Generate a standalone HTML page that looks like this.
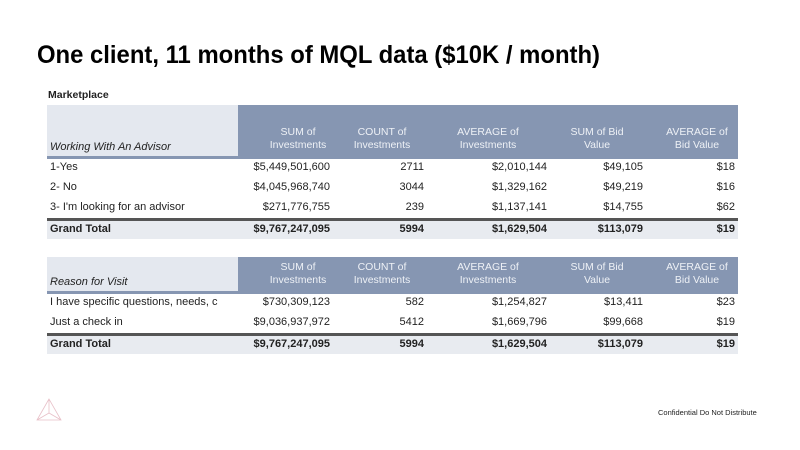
<!DOCTYPE html>
<html><head><meta charset="utf-8"><style>
body{margin:0;width:800px;height:450px;background:#fff;position:relative;overflow:hidden;font-family:"Liberation Sans",Arial,sans-serif;}
.a{position:absolute;}
.t{font-size:11px;color:#222;white-space:nowrap;}
.r{text-align:right;}
.h{color:#eef1f6;font-size:10.5px;text-align:center;line-height:13px;}
.b{font-weight:bold;}
</style></head><body>
<svg class="a" style="left:0;top:0" width="800" height="80"><text x="37" y="63" font-family="Liberation Sans, sans-serif" font-weight="bold" font-size="25" textLength="563" lengthAdjust="spacingAndGlyphs" fill="#000">One client, 11 months of MQL data ($10K / month)</text></svg>
<div class="a t b" style="left:48px;top:89px;font-size:10.5px">Marketplace</div>

<div id="t1"></div>
<div id="t2"></div>

<svg class="a" style="left:34px;top:397px" width="30" height="26"><path d="M15 2 L3 23 L27 23 Z M15 2 L15 16 L3 23 M15 16 L27 23" fill="none" stroke="#e8c0c8" stroke-width="0.8"/></svg>
<div class="a" style="left:658px;top:408px;font-size:7.5px;color:#222">Confidential Do Not Distribute</div>
<script>
const heads=[["SUM of","Investments"],["COUNT of","Investments"],["AVERAGE of","Investments"],["SUM of Bid","Value"],["AVERAGE of","Bid Value"]];
const rights=[330,424,547,643,735];
const centers=[298,382,488,597,697];
const t1rows=[["1-Yes","$5,449,501,600","2711","$2,010,144","$49,105","$18"],["2- No","$4,045,968,740","3044","$1,329,162","$49,219","$16"],["3- I'm looking for an advisor","$271,776,755","239","$1,137,141","$14,755","$62"]];
const t2rows=[["I have specific questions, needs, c","$730,309,123","582","$1,254,827","$13,411","$23"],["Just a check in","$9,036,937,972","5412","$1,669,796","$99,668","$19"]];
const total=["Grand Total","$9,767,247,095","5994","$1,629,504","$113,079","$19"];
function add(p,style,cls,txt,name){const d=document.createElement('div');d.className='a '+cls;d.style.cssText=style;if(txt!==undefined&&txt!==null)d.textContent=txt;


p.appendChild(d);return d;}
function table(host,label,top,hh,rows){
  add(host,`left:47px;top:${top}px;width:191px;height:${hh}px;background:#e4e8ef`,'', undefined,'header-label-bg');
  add(host,`left:238px;top:${top}px;width:500px;height:${hh}px;background:#8696b2`,'',undefined,'header-bg');
  add(host,`left:47px;top:${top+hh}px;width:691px;height:3px;background:#8696b2`,'',undefined,'header-rule');
  add(host,`left:50px;top:${top+hh-15}px;font-style:italic`,'t',label,'row-header-label');
  heads.forEach((h,i)=>{const c=centers[i]-50;
    const d=add(host,`left:${c}px;top:${top+hh-30}px;width:100px`,'h',null,'column-header');d.innerHTML=h[0]+'<br>'+h[1];});
  let y=top+hh+5;
  rows.forEach(r=>{add(host,`left:50px;top:${y}px`,'t',r[0],'row-label');
    r.slice(1).forEach((v,i)=>add(host,`left:${rights[i]-150}px;top:${y}px;width:150px`,'t r',v,'cell'));y+=20;});
  y-=3;
  add(host,`left:47px;top:${y}px;width:691px;height:3px;background:#555`,'',undefined,'total-rule');
  add(host,`left:47px;top:${y+3}px;width:691px;height:18px;background:#e8ebf0`,'',undefined,'total-bg');
  add(host,`left:50px;top:${y+5}px`,'t b',total[0],'total-label');
  total.slice(1).forEach((v,i)=>add(host,`left:${rights[i]-150}px;top:${y+5}px;width:150px`,'t r b',v,'total-cell'));
}
table(document.getElementById('t1'),'Working With An Advisor',105,51,t1rows);
table(document.getElementById('t2'),'Reason for Visit',257,34,t2rows);
</script>
</body></html>
